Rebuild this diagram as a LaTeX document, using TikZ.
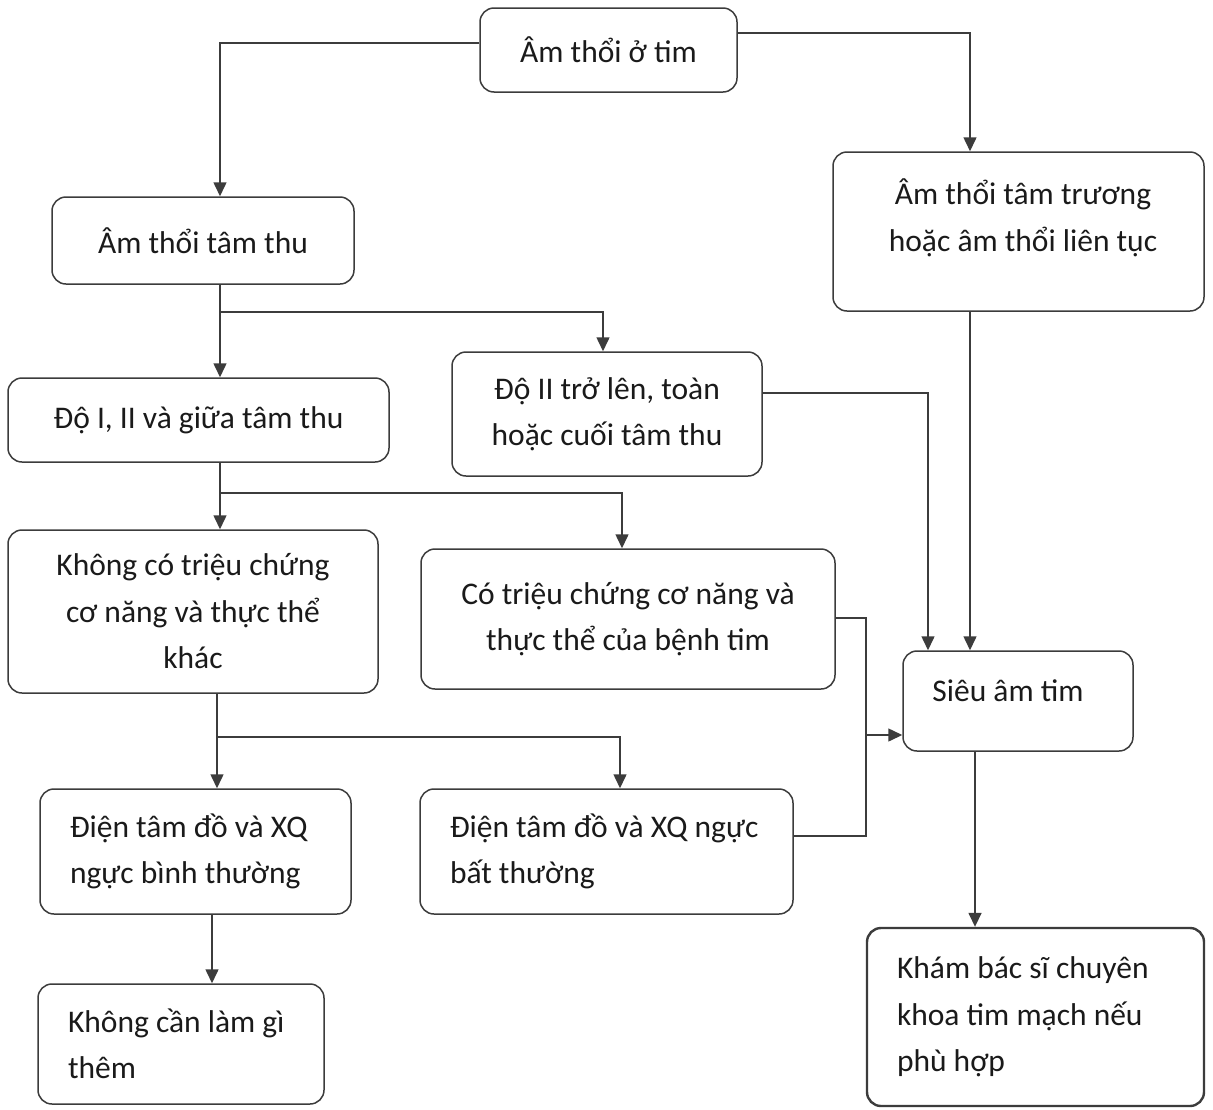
\documentclass[tikz,border=0pt]{standalone}
\usepackage{fontspec}
\setmainfont{Carlito}
\usetikzlibrary{arrows.meta}
\definecolor{ln}{HTML}{3C3C3C}
\definecolor{tx}{HTML}{1A1A1A}
\begin{document}
\begin{tikzpicture}[x=1pt,y=-1pt,
  box/.style={draw=ln,line width=1.5pt,rounded corners=14pt,inner sep=0pt,align=center,text=tx,font=\fontsize{31.5}{46.5}\selectfont},
  lbox/.style={box,align=flush left,inner xsep=30pt},
  txt/.style={inner sep=0pt,align=center,text=tx,font=\fontsize{31.5}{46.5}\selectfont},
  con/.style={draw=ln,line width=1.5pt},
  arr/.style={con,-{Triangle[length=14pt,width=13pt]}}]
\fill[white] (0,0) rectangle (1213,1109);
\useasboundingbox (0,0) rectangle (1213,1109);
% boxes
\node[box,minimum width=257pt,minimum height=84pt] (b1) at (608.5,50) {Âm thổi ở tim};
\node[box,minimum width=302pt,minimum height=87pt] (b2) at (203,240.5) {Âm thổi tâm thu};
\node[box,minimum width=371pt,minimum height=159pt] (b3) at (1018.5,231.5) {};
\node[txt] (t3) at (1023,218) {Âm thổi tâm trương\\hoặc âm thổi liên tục};
\node[box,minimum width=381pt,minimum height=84pt] (b4) at (198.5,420) {Độ I, II và giữa tâm thu};
\node[box,minimum width=310pt,minimum height=124pt] (b5) at (607,414) {Độ II trở lên, toàn\\hoặc cuối tâm thu};
\node[box,minimum width=370pt,minimum height=163pt] (b6) at (193,611.5) {Không có triệu chứng\\cơ năng và thực thể\\khác};
\node[box,minimum width=414pt,minimum height=140pt] (b7) at (628,619) {Có triệu chứng cơ năng và\\thực thể của bệnh tim};
\node[box,minimum width=230pt,minimum height=100pt] (b8) at (1018,701) {};
\node[txt] (t8) at (1008,691) {Siêu âm tim};
\node[lbox,text width=251pt,minimum height=125pt] (b9) at (195.5,851.5) {\mbox{Điện tâm đồ và XQ}\\\mbox{ngực bình thường}};
\node[lbox,text width=313pt,minimum height=125pt] (b10) at (606.5,851.5) {\mbox{Điện tâm đồ và XQ ngực}\\\mbox{bất thường}};
\node[lbox,text width=226pt,minimum height=120pt] (b11) at (181,1044) {\mbox{Không cần làm gì}\\\mbox{thêm}};
\node[lbox,text width=277pt,minimum height=178pt,line width=2.4pt] (b12) at (1035.5,1017) {\mbox{Khám bác sĩ chuyên}\\\mbox{khoa tim mạch nếu}\\\mbox{phù hợp}};
% connector coordinates
\coordinate (c1) at (220,43);
\coordinate (c2) at (970,33);
\coordinate (c3) at (220,312);
\coordinate (c4) at (603,312);
\coordinate (c5) at (220,493);
\coordinate (c6) at (622,493);
\coordinate (c7) at (217,737);
\coordinate (c8) at (620,737);
\coordinate (c9) at (212,0);
\coordinate (c10) at (928,393);
\coordinate (c11) at (866,618);
\coordinate (c12) at (866,836);
\coordinate (c13) at (866,735);
\coordinate (c14) at (975,0);
% connectors
\draw[arr] (b1.west |- c1) -- (c1) -- (c1 |- b2.north);
\draw[arr] (b1.east |- c2) -- (c2) -- (c2 |- b3.north);
\draw[arr] (c3 |- b2.south) -- (c3 |- b4.north);
\draw[arr] (c3) -- (c4) -- (c4 |- b5.north);
\draw[arr] (c5 |- b4.south) -- (c5 |- b6.north);
\draw[arr] (c5) -- (c6) -- (c6 |- b7.north);
\draw[arr] (c7 |- b6.south) -- (c7 |- b9.north);
\draw[arr] (c7) -- (c8) -- (c8 |- b10.north);
\draw[arr] (c9 |- b9.south) -- (c9 |- b11.north);
\draw[arr] (b3.south -| c2) -- (c2 |- b8.north);
\draw[arr] (b5.east |- c10) -- (c10) -- (c10 |- b8.north);
\draw[con] (b7.east |- c11) -- (c11) -- (c12) -- (b10.east |- c12);
\draw[arr] (c13) -- (b8.west |- c13);
\draw[arr] (c14 |- b8.south) -- (c14 |- b12.north);
\end{tikzpicture}
\end{document}
